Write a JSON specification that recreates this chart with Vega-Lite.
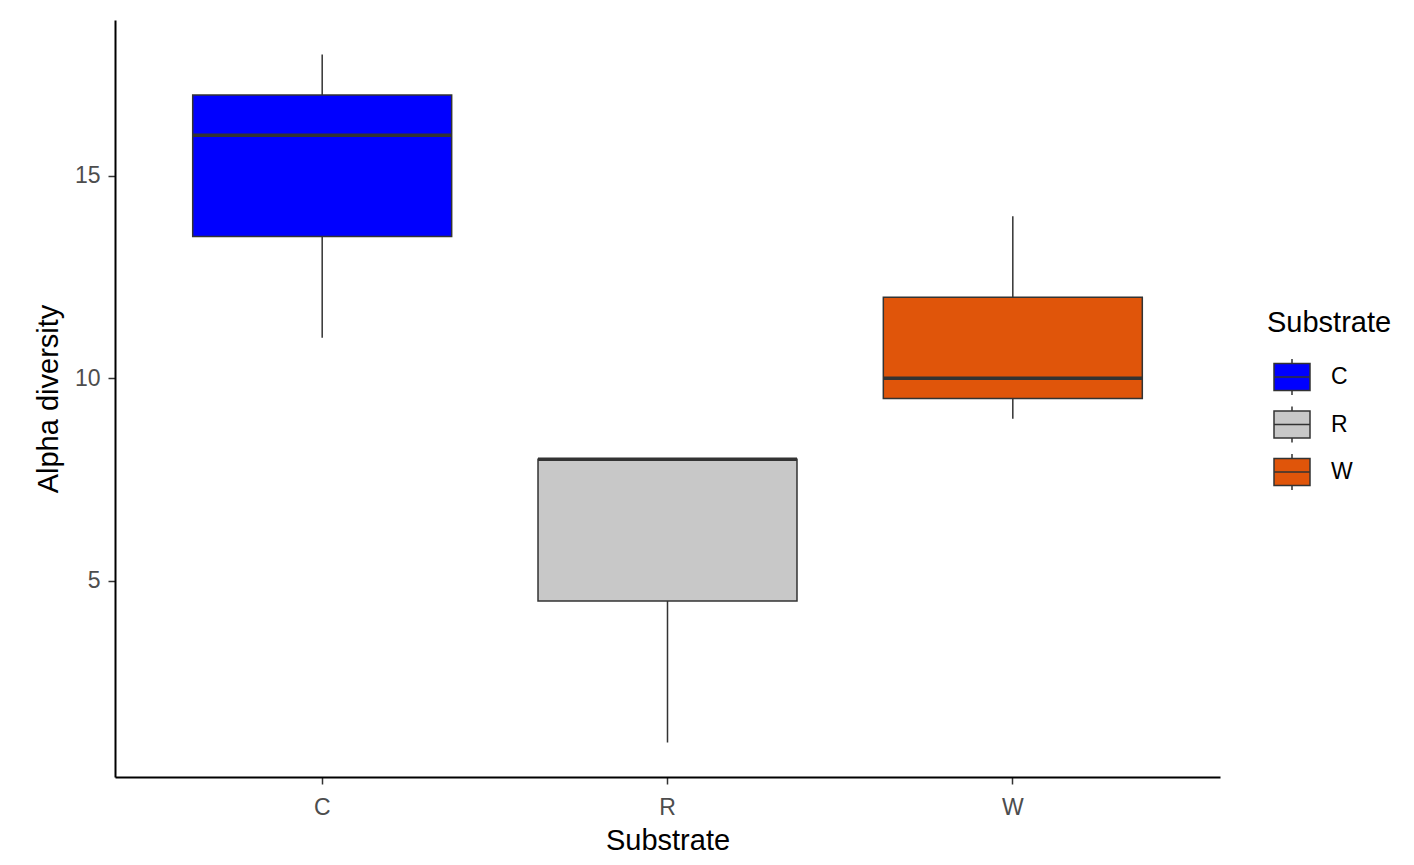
{
  "$schema": "https://vega.github.io/schema/vega-lite/v6.json",
  "autosize": {"type": "none"},
  "width": 1105,
  "height": 757,
  "padding": {"left": 115, "top": 20, "right": 194, "bottom": 88},
  "background": "white",
  "config": {
    "font": "Liberation Sans",
    "view": {"stroke": null},
    "axis": {
      "domainColor": "black",
      "domainWidth": 2,
      "tickColor": "#333333",
      "tickWidth": 1.5,
      "tickSize": 7,
      "labelColor": "#4d4d4d",
      "labelFontSize": 23,
      "titleColor": "black",
      "titleFontSize": 29,
      "titleFontWeight": "normal",
      "grid": false
    }
  },
  "data": {
    "values": [
      {"Substrate": "C", "lower": 11, "q1": 13.5, "median": 16, "q3": 17, "upper": 18},
      {"Substrate": "R", "lower": 1, "q1": 4.5, "median": 8, "q3": 8, "upper": 8},
      {"Substrate": "W", "lower": 9, "q1": 9.5, "median": 10, "q3": 12, "upper": 14}
    ]
  },
  "encoding": {
    "x": {
      "field": "Substrate",
      "type": "nominal",
      "scale": {"paddingInner": 0.25, "paddingOuter": 0.225},
      "axis": {"labelAngle": 0, "labelPadding": 12, "titlePadding": 7, "title": "Substrate"}
    }
  },
  "layer": [
    {
      "mark": {"type": "rule", "color": "#333333", "strokeWidth": 1.5},
      "encoding": {
        "y": {
          "field": "lower",
          "type": "quantitative",
          "scale": {"domain": [0.15, 18.85], "nice": false, "zero": false},
          "axis": {"values": [5, 10, 15], "title": "Alpha diversity", "labelPadding": 8, "titlePadding": 11}
        },
        "y2": {"field": "upper"}
      }
    },
    {
      "mark": {"type": "bar", "stroke": "#333333", "strokeWidth": 1.5, "opacity": 1},
      "encoding": {
        "y": {"field": "q1", "type": "quantitative"},
        "y2": {"field": "q3"},
        "fill": {
          "field": "Substrate",
          "type": "nominal",
          "scale": {"domain": ["C", "R", "W"], "range": ["#0000ff", "#c8c8c8", "#e0550a"]},
          "legend": {
            "title": "Substrate",
            "orient": "none",
            "legendX": 1152,
            "legendY": 289,
            "titleFontSize": 29,
            "titleFontWeight": "normal",
            "titleColor": "black",
            "titlePadding": 20,
            "labelFontSize": 23,
            "labelColor": "black",
            "labelOffset": 20,
            "rowPadding": 5.5,
            "symbolSize": 1296,
            "symbolOffset": 6,
            "symbolType": "M-1,-0.75H1V0.75H-1Z M-1,0H1 M0,-0.75V-1 M0,0.75V1",
            "symbolStrokeColor": "#333333",
            "symbolStrokeWidth": 1.5,
            "symbolOpacity": 1
          }
        }
      }
    },
    {
      "mark": {"type": "tick", "color": "#333333", "thickness": 3.5, "size": 259, "opacity": 1},
      "encoding": {
        "y": {"field": "median", "type": "quantitative"}
      }
    }
  ]
}
